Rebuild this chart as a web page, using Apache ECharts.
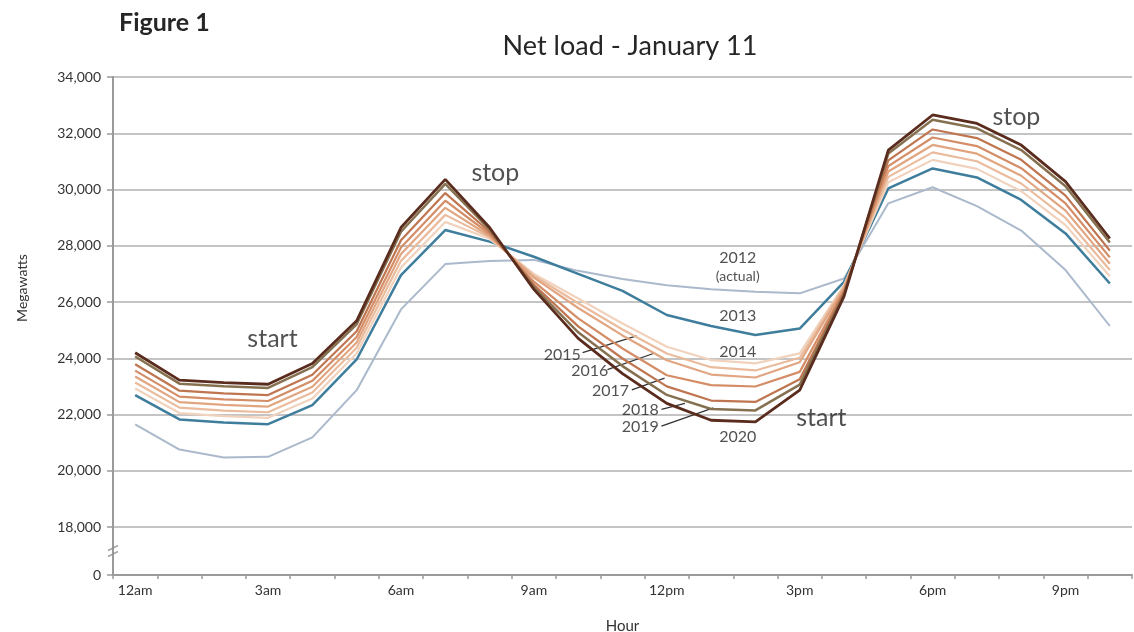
<!DOCTYPE html>
<html>
<head>
<meta charset="utf-8">
<script src="https://cdn.jsdelivr.net/npm/echarts@6/dist/echarts.min.js"></script>
<style>
html,body{margin:0;padding:0;background:#fff;}
#chart{width:1134px;height:632px;}
</style>
</head>
<body>
<div id="chart"></div>
<script>
const hours = ['12am','1am','2am','3am','4am','5am','6am','7am','8am','9am','10am','11am',
               '12pm','1pm','2pm','3pm','4pm','5pm','6pm','7pm','8pm','9pm','10pm'];

const y2012 = [21650, 20760, 20480, 20500, 21190, 22870, 25740, 27350, 27460, 27500, 27110, 26820, 26600, 26460, 26370, 26310, 26840, 29510, 30080, 29410, 28540, 27140, 25150];
const y2013 = [22690, 21830, 21720, 21660, 22340, 23960, 26960, 28560, 28150, 27610, 27000, 26400, 25540, 25150, 24830, 25060, 26720, 30040, 30750, 30430, 29630, 28440, 26660];
const y2014 = [22930, 22055, 21945, 21885, 22575, 24180, 27230, 28850, 28250, 27000, 26130, 25240, 24410, 23940, 23820, 24175, 26600, 30260, 31055, 30735, 29940, 28735, 26915];
const y2015 = [23140, 22250, 22145, 22085, 22785, 24375, 27465, 29100, 28300, 26935, 25960, 25025, 24170, 23685, 23570, 24020, 26550, 30450, 31320, 31005, 30215, 28990, 27140];
const y2016 = [23355, 22445, 22345, 22285, 22990, 24565, 27705, 29350, 28350, 26870, 25790, 24815, 23930, 23425, 23320, 23860, 26500, 30640, 31585, 31275, 30490, 29250, 27365];
const y2017 = [23565, 22640, 22545, 22485, 23200, 24760, 27940, 29605, 28420, 26725, 25420, 24350, 23400, 23050, 23000, 23520, 26420, 30830, 31850, 31545, 30760, 29505, 27590];
const y2018 = [23790, 22850, 22755, 22695, 23420, 24965, 28195, 29875, 28500, 26615, 25135, 23995, 23005, 22500, 22450, 23260, 26350, 31035, 32135, 31830, 31055, 29785, 27830];
const y2019 = [24065, 23100, 23010, 22950, 23685, 25210, 28500, 30200, 28580, 26530, 24925, 23725, 22700, 22200, 22150, 23065, 26280, 31280, 32480, 32175, 31405, 30115, 28115];
const y2020 = [24200, 23225, 23140, 23080, 23820, 25335, 28650, 30360, 28650, 26450, 24710, 23460, 22400, 21800, 21740, 22870, 26200, 31400, 32650, 32350, 31580, 30280, 28260];

const seriesNames = ['2012','2013','2014','2015','2016','2017','2018','2019','2020'];
const seriesData = [y2012, y2013, y2014, y2015, y2016, y2017, y2018, y2019, y2020];

// annotation text: [text, hourPosition, megawatts]
const annotations = [
  ['start', 3.10, 24700],
  ['stop', 8.13, 30600],
  ['stop', 19.89, 32580],
  ['start', 15.49, 21900],
  ['2012', 13.60, 27560],
  ['(actual)', 13.60, 26900],
  ['2013', 13.60, 25500],
  ['2014', 13.60, 24230],
  ['2015', 9.64, 24130],
  ['2016', 10.26, 23540],
  ['2017', 10.73, 22830],
  ['2018', 11.40, 22160],
  ['2019', 11.40, 21580],
  ['2020', 13.60, 21200]
];
// leader lines: [[x1,y1],[x2,y2]]
const leaders = [
  [[10.10, 24200], [11.32, 24800]],
  [[10.66, 23600], [11.73, 24190]],
  [[11.21, 22880], [11.95, 23300]],
  [[11.88, 22190], [12.41, 22400]],
  [[11.88, 21590], [13.05, 22240]]
];

const Y_MIN = 16300;
const FONT = 'Lato, "Noto Sans", sans-serif';
const colors = ['#aab9cb','#3e7d9c','#f1d2bd','#eabb9c','#e1a581','#d48d66','#bf7550','#857050','#5a2c1e'];
const widths = [2, 2.5, 2.2, 2.2, 2.2, 2.2, 2.2, 2.5, 2.8];

const lineSeries = seriesNames.map((n, i) => ({
  name: n,
  type: 'line',
  data: seriesData[i],
  xAxisIndex: 0,
  showSymbol: false,
  symbol: 'none',
  lineStyle: { color: colors[i], width: widths[i] },
  z: 2 + i
}));

const annoSeries = {
  type: 'scatter',
  xAxisIndex: 1,
  symbolSize: 0,
  silent: true,
  z: 20,
  data: annotations.map(a => ({
    name: a[0],
    value: [a[1], a[2]],
    label: {
      show: true,
      position: 'inside',
      formatter: a[0],
      color: '#262626',
      fontFamily: FONT,
      fontSize: (a[0] === 'start' || a[0] === 'stop') ? 25 : (a[0] === '(actual)' ? 14 : 16)
    }
  })),
  markLine: {
    silent: true,
    symbol: 'none',
    label: { show: false },
    lineStyle: { color: '#333', width: 1.3, type: 'solid' },
    data: leaders.map(l => [{ coord: l[0] }, { coord: l[1] }])
  }
};

const breakSeries = {
  type: 'scatter',
  xAxisIndex: 1,
  silent: true,
  z: 30,
  symbol: 'path://M0,5 L10,0 M0,11 L10,6',
  symbolSize: [10, 11],
  itemStyle: { color: 'none', borderColor: '#8c8c8c', borderWidth: 1.5 },
  data: [[-0.5, 17150]]
};

const chart = echarts.init(document.getElementById('chart'), null, { renderer: 'canvas' });
chart.setOption({
  animation: false,
  backgroundColor: '#fff',
  title: [
    { text: 'Figure 1', left: 114, top: 5,
      textStyle: { fontFamily: FONT, fontWeight: 'bold', fontSize: 25, color: '#262626' } },
    { text: 'Net load - January 11', left: 625, top: 28, textAlign: 'center',
      textStyle: { fontFamily: FONT, fontWeight: 'normal', fontSize: 27, color: '#262626' } }
  ],
  grid: { left: 113, right: 2, top: 77, bottom: 57, containLabel: false, outerBoundsMode: 'none' },
  xAxis: [
    {
      type: 'category',
      data: hours,
      boundaryGap: true,
      name: 'Hour',
      nameLocation: 'middle',
      nameGap: 44,
      nameTextStyle: { fontFamily: FONT, fontSize: 15, color: '#333' },
      axisLine: { onZero: false, lineStyle: { color: '#9a9a9a', width: 2 } },
      axisTick: { show: true, interval: 0, length: 4, lineStyle: { color: '#9a9a9a', width: 1.5 } },
      axisLabel: { interval: 2, margin: 8, fontFamily: FONT, fontSize: 14, color: '#333' },
      splitLine: { show: false }
    },
    { type: 'value', min: -0.5, max: 22.5, show: false }
  ],
  yAxis: {
    type: 'value',
    min: Y_MIN,
    max: 34000,
    minInterval: 2000,
    maxInterval: 2000,
    splitNumber: 9,
    name: 'Megawatts',
    nameLocation: 'middle',
    nameGap: 84,
    nameTextStyle: { fontFamily: FONT, fontSize: 14, color: '#333', padding: [0, 0, 0, 76] },
    axisLine: { show: true, onZero: false, lineStyle: { color: '#9a9a9a', width: 2 } },
    axisTick: { show: true, length: 6, lineStyle: { color: '#9a9a9a', width: 1.5 } },
    axisLabel: {
      margin: 12, fontFamily: FONT, fontSize: 14, color: '#333',
      formatter: v => (v < 17000 ? '0' : v.toLocaleString('en-US'))
    },
    splitLine: { show: true, lineStyle: { color: '#c4c4c4', width: 2 } }
  },
  series: [...lineSeries, annoSeries, breakSeries]
});
</script>
</body>
</html>
